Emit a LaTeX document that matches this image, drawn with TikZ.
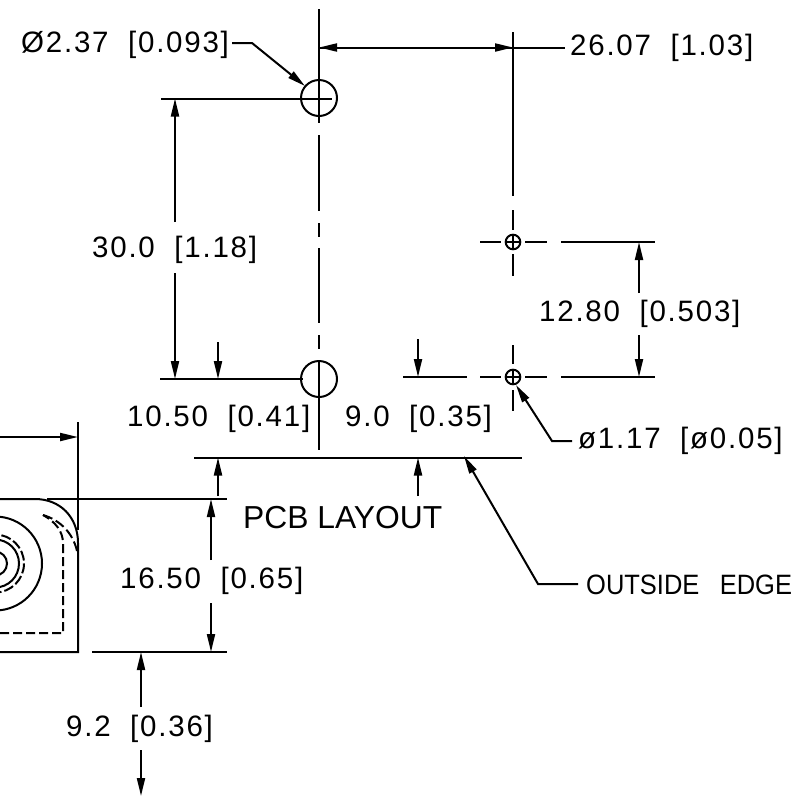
\documentclass[tikz,border=0pt]{standalone}
\usepackage{fontspec}
\setmainfont{Liberation Sans}
\newfontfamily\dimfont[LetterSpace=6]{Liberation Sans}
\usetikzlibrary{arrows.meta}
\newcommand{\dimgap}{\hspace{0.66em}}
\tikzset{
  dimtext/.style={anchor=base west, inner sep=0pt, font=\dimfont\fontsize{29.5}{32}\selectfont},
  captext/.style={anchor=base west, inner sep=0pt, font=\fontsize{28}{30}\selectfont},
  dimline/.style={line width=2pt},
  dimarrow/.style={-{Triangle[length=18pt,width=8pt]}, line width=2pt},
  thinline/.style={line width=1.5pt}
}

\begin{document}
\begin{tikzpicture}[x=1pt,y=-1pt]

  \clip (0,0) rectangle (799,796);

  % nodes
  \node [dimtext] (holedia) at (21,52) {Ø2.37\dimgap[0.093]};
  \node [dimtext] (holespan) at (570,55) {26.07\dimgap[1.03]};
  \node [dimtext] (holepitch) at (92,257) {30.0\dimgap[1.18]};
  \node [dimtext] (pinpitch) at (539,321) {12.80\dimgap[0.503]};
  \node [dimtext] (holeedge) at (127,426) {10.50\dimgap[0.41]};
  \node [dimtext] (pinedge) at (345,426) {9.0\dimgap[0.35]};
  \node [dimtext] (pindia) at (578,448) {ø1.17\dimgap[ø0.05]};
  \node [captext] (edgename) at (586,594) {\scalebox{0.91}[1]{OUTSIDE\hspace{0.8em}EDGE}};
  \node [anchor=base west, inner sep=0pt, font=\fontsize{31.8}{34}\selectfont] (layoutname) at (243,528) {PCB LAYOUT};
  \node [dimtext] (bodydepth) at (120,588) {16.50\dimgap[0.65]};
  \node [dimtext] (bodygap) at (66,736) {9.2\dimgap[0.36]};

  % holes
  \coordinate (holeA) at (319,98);
  \coordinate (holeB) at (319,379);
  \coordinate (pinA) at (513,242);
  \coordinate (pinB) at (513,377);
  \draw [dimline] (holeA) circle [radius=18];
  \draw [dimline] (holeB) circle [radius=18];
  \draw [dimline] (pinA) circle [radius=7.3];
  \draw [dimline] (pinB) circle [radius=7.3];

  % center lines
  \draw [dimline] (319,9) -- (319,123);
  \draw [dimline] (319,135) -- (319,211);
  \draw [dimline] (319,223) -- (319,237);
  \draw [dimline] (319,248) -- (319,323);
  \draw [dimline] (319,335) -- (319,349);
  \draw [dimline] (319,361) -- (319,450);
  \draw [dimline] (513,32) -- (513,196);
  \draw [dimline] (513,210) -- (513,230);
  \draw [thinline] (513,236) -- (513,248);
  \draw [dimline] (513,254) -- (513,276);
  \draw [dimline] (513,345) -- (513,364);
  \draw [thinline] (513,371) -- (513,383);
  \draw [dimline] (513,390) -- (513,411);
  \draw [dimline] (480,242) -- (501,242);
  \draw [thinline] (507,242) -- (519,242);
  \draw [dimline] (525,242) -- (547,242);
  \draw [dimline] (480,377) -- (501,377);
  \draw [thinline] (507,377) -- (519,377);
  \draw [dimline] (525,377) -- (547,377);

  % extension lines
  \draw [dimline] (161,98.5) -- (332,98.5);
  \draw [dimline] (160,379) -- (303,379);
  \draw [dimline] (403,377) -- (467,377);
  \draw [dimline] (561,242) -- (655,242);
  \draw [dimline] (561,377) -- (655,377);
  \draw [dimline] (194,457.5) -- (522,457.5);
  \draw [dimline] (47,499) -- (227,499);
  \draw [dimline] (92,652) -- (227,652);
  \draw [dimline] (78,422) -- (78,530);

  % body
  \draw [dimline] (0,499) -- (35,499) .. controls (60,499) and (78,517) .. (78,543) -- (78,652) -- (0,652);
  \draw [dimline, dash pattern=on 9pt off 4pt] (0,633) -- (63,633) -- (63,543) .. controls (63,532) and (56,522) .. (43,515);
  \draw [dimline, dash pattern=on 10pt off 4pt] (43,515) .. controls (60,520) and (73,533) .. (77,551);
  \draw [dimline] (-5,563.5) circle [radius=47];
  \draw [dimline, dash pattern=on 10pt off 3pt] (-5,563.5) circle [radius=29];
  \draw [dimline] (-5,563.5) circle [radius=24];
  \draw [dimline] (-5,563.5) circle [radius=12];

  % arrows
  \draw [dimarrow] (232,43) -- (252,43) -- (305,86);
  \draw [dimarrow] (513,47.5) -- (319,47.5);
  \draw [dimarrow] (319,47.5) -- (513,47.5);
  \draw [dimline] (513,47.5) -- (565,47.5);
  \draw [dimarrow] (175,222) -- (175,98.5);
  \draw [dimarrow] (175,273) -- (175,379);
  \draw [dimarrow] (218,342) -- (218,379);
  \draw [dimarrow] (218,496) -- (218,457.5);
  \draw [dimarrow] (418,339) -- (418,377);
  \draw [dimarrow] (418,496) -- (418,457.5);
  \draw [dimarrow] (639,293) -- (639,242);
  \draw [dimarrow] (639,335) -- (639,377);
  \draw [dimarrow] (572,441) -- (552,441) -- (516,385);
  \draw [dimarrow] (578,584) -- (538,584) -- (464,456);
  \draw [dimarrow] (0,437) -- (78,437);
  \draw [dimarrow] (211,560) -- (211,499);
  \draw [dimarrow] (211,603) -- (211,652);
  \draw [dimarrow] (141,707) -- (141,652);
  \draw [dimarrow] (141,750) -- (141,796);

\end{tikzpicture}
\end{document}
